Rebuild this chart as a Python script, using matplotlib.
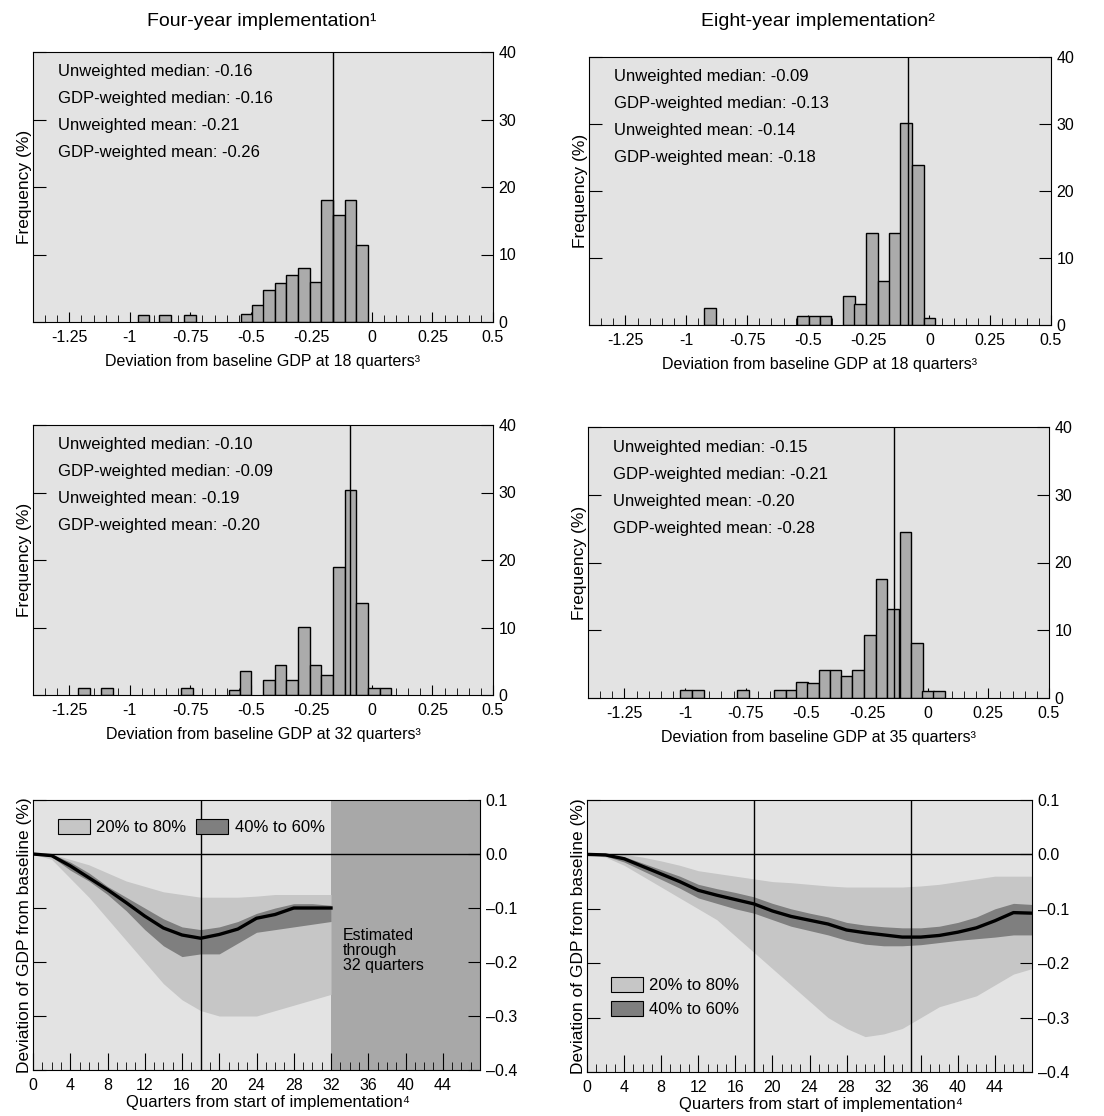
"""
Distribution of GDP impact estimates for four- and eight-year implementation.

Top two rows: histograms of deviation from baseline GDP at a given quarter.
Bottom row: median path with 20-80% and 40-60% bands.
"""

import matplotlib
matplotlib.use('Agg')
import matplotlib.pyplot as plt
from matplotlib.patches import Patch
from matplotlib.ticker import MultipleLocator

plt.rcParams['font.family'] = ['Liberation Sans', 'DejaVu Sans']

# ---------------------------------------------------------------------------
# Data
# ---------------------------------------------------------------------------
stat_names = ['Unweighted median', 'GDP-weighted median',
              'Unweighted mean', 'GDP-weighted mean']

# Four-year implementation, 18 quarters
four_q18_bins = [-0.944, -0.854, -0.752, -0.516, -0.47, -0.424, -0.378, -0.33,
                 -0.281, -0.233, -0.185, -0.137, -0.088, -0.04]
four_q18_freq = [1.0, 1.0, 1.0, 1.2, 2.5, 4.7, 5.8, 6.9, 8.0, 5.9, 18.1, 15.8,
                 18.1, 11.4]
four_q18_stats = [-0.16, -0.16, -0.21, -0.26]
four_q18_median = -0.16

# Eight-year implementation, 18 quarters
eight_q18_bins = [-0.903, -0.52, -0.473, -0.427, -0.332, -0.285, -0.237, -0.188,
                  -0.141, -0.095, -0.047, 0.0]
eight_q18_freq = [2.5, 1.3, 1.3, 1.3, 4.3, 3.2, 13.7, 6.5, 13.7, 30.1, 23.9, 1.0]
eight_q18_stats = [-0.09, -0.13, -0.14, -0.18]
eight_q18_median = -0.09

# Four-year implementation, 32 quarters
four_q32_bins = [-1.19, -1.094, -0.763, -0.567, -0.522, -0.426, -0.378, -0.33,
                 -0.281, -0.233, -0.185, -0.137, -0.089, -0.04, 0.008, 0.056]
four_q32_freq = [1.0, 1.0, 1.0, 0.7, 3.5, 2.2, 4.5, 2.2, 10.1, 4.5, 3.0, 19.0,
                 30.4, 13.6, 1.0, 1.0]
four_q32_stats = [-0.10, -0.09, -0.19, -0.20]
four_q32_median = -0.09

# Eight-year implementation, 35 quarters
eight_q35_bins = [-0.995, -0.947, -0.761, -0.61, -0.562, -0.517, -0.473, -0.425,
                  -0.38, -0.335, -0.287, -0.239, -0.191, -0.143, -0.092, -0.043,
                  0.002, 0.047]
eight_q35_freq = [1.2, 1.2, 1.2, 1.2, 1.2, 2.3, 2.2, 4.2, 4.2, 3.2, 4.2, 9.3,
                  17.6, 13.2, 24.5, 8.1, 1.0, 1.0]
eight_q35_stats = [-0.15, -0.21, -0.20, -0.28]
eight_q35_median = -0.14

hist_ticks = [-1.25, -1.0, -0.75, -0.5, -0.25, 0.0, 0.25, 0.5]
hist_tick_labels = ['-1.25', '-1', '-0.75', '-0.5', '-0.25', '0', '0.25', '0.5']

# Four-year implementation path (estimated through 32 quarters)
four_quarters = [0, 2, 4, 6, 8, 10, 12, 14, 16, 18, 20, 22, 24, 26, 28, 30, 32]
four_median = [0.0, -0.003, -0.022, -0.044, -0.066, -0.09, -0.115, -0.137,
               -0.15, -0.156, -0.149, -0.139, -0.119, -0.112, -0.1, -0.1, -0.1]
four_p40 = [0.0, -0.005, -0.03, -0.05, -0.075, -0.105, -0.14, -0.17, -0.19,
            -0.185, -0.185, -0.165, -0.145, -0.14, -0.135, -0.13, -0.125]
four_p60 = [0.0, 0.0, -0.015, -0.035, -0.06, -0.08, -0.1, -0.12, -0.135, -0.14,
            -0.135, -0.125, -0.11, -0.1, -0.092, -0.092, -0.095]
four_p20 = [0.0, -0.01, -0.045, -0.08, -0.12, -0.16, -0.2, -0.24, -0.27, -0.29,
            -0.3, -0.3, -0.3, -0.29, -0.28, -0.27, -0.26]
four_p80 = [0.0, 0.0, -0.01, -0.02, -0.035, -0.05, -0.06, -0.07, -0.075, -0.08,
            -0.08, -0.08, -0.078, -0.075, -0.075, -0.075, -0.075]

# Eight-year implementation path
eight_quarters = [0, 2, 4, 6, 8, 10, 12, 14, 16, 18, 20, 22, 24, 26, 28, 30, 32,
                  34, 36, 38, 40, 42, 44, 46, 48]
eight_median = [0.0, -0.001, -0.008, -0.022, -0.036, -0.05, -0.066, -0.075,
                -0.083, -0.091, -0.104, -0.114, -0.121, -0.128, -0.139, -0.144,
                -0.148, -0.152, -0.152, -0.149, -0.143, -0.135, -0.122, -0.107,
                -0.108]
eight_p60 = [0.0, 0.0, -0.004, -0.016, -0.028, -0.04, -0.055, -0.063, -0.07,
             -0.078, -0.09, -0.1, -0.108, -0.115, -0.125, -0.13, -0.133, -0.135,
             -0.135, -0.132, -0.125, -0.115, -0.1, -0.09, -0.092]
eight_p40 = [0.0, -0.003, -0.014, -0.03, -0.046, -0.062, -0.08, -0.09, -0.1,
             -0.108, -0.12, -0.132, -0.14, -0.148, -0.158, -0.165, -0.168,
             -0.168, -0.166, -0.162, -0.158, -0.155, -0.152, -0.148, -0.148]
eight_p80 = [0.0, 0.0, 0.0, -0.005, -0.012, -0.02, -0.03, -0.035, -0.04, -0.045,
             -0.05, -0.052, -0.055, -0.058, -0.06, -0.06, -0.06, -0.06, -0.058,
             -0.055, -0.05, -0.045, -0.04, -0.04, -0.04]
eight_p20 = [0.0, -0.005, -0.02, -0.04, -0.06, -0.08, -0.1, -0.12, -0.15, -0.18,
             -0.21, -0.24, -0.27, -0.3, -0.32, -0.335, -0.33, -0.32, -0.3, -0.28,
             -0.27, -0.26, -0.24, -0.22, -0.21]

fan_y_ticks = [0.1, 0.0, -0.1, -0.2, -0.3, -0.4]
fan_y_labels = ['0.1', '0.0', '\u20130.1', '\u20130.2', '\u20130.3', '\u20130.4']

# ---------------------------------------------------------------------------
# Style
# ---------------------------------------------------------------------------
W, H = 1104, 1116
BG = '#e3e3e3'
BAR = '#ababab'
BAND_LIGHT = '#c6c6c6'
BAND_DARK = '#7f7f7f'
ESTIMATED = '#a8a8a8'
BIN_WIDTH = 0.048
TICK_SIZE = 11.5


def px_rect(left, top, right, bottom):
    """Axes rectangle in figure fractions from pixel edges."""
    return [left / W, 1 - bottom / H, (right - left) / W, (bottom - top) / H]


def draw_histogram(ax, bins, freq, median, stats, xlabel):
    ax.set_facecolor(BG)
    ax.bar(bins, freq, width=BIN_WIDTH, color=BAR, edgecolor='black',
           linewidth=1.0, zorder=2)
    ax.axvline(median, color='black', linewidth=1.0, zorder=3)

    ax.set_xlim(-1.4, 0.5)
    ax.set_ylim(0, 40)
    ax.set_xticks(hist_ticks)
    ax.set_xticklabels(hist_tick_labels)
    ax.xaxis.set_minor_locator(MultipleLocator(0.05))
    ax.set_yticks([0, 10, 20, 30, 40])

    ax.tick_params(axis='both', which='both', direction='in', labelsize=TICK_SIZE)
    ax.tick_params(axis='y', left=True, right=True, labelleft=False,
                   labelright=True, length=9, pad=4)
    ax.tick_params(axis='x', which='major', length=7, pad=6)
    ax.tick_params(axis='x', which='minor', length=5)

    for i, (name, value) in enumerate(zip(stat_names, stats)):
        ax.text(0.054, 0.926 - i * 0.1, f'{name}: {value:.2f}',
                transform=ax.transAxes, fontsize=12, va='center', zorder=4)

    ax.set_ylabel('Frequency (%)', fontsize=12.5, labelpad=1)
    ax.set_xlabel(xlabel, fontsize=11.5, labelpad=6)


def draw_fan(ax, quarters, p20, p80, p40, p60, median, vlines):
    ax.set_facecolor(BG)
    ax.fill_between(quarters, p20, p80, color=BAND_LIGHT, linewidth=0, zorder=1)
    ax.fill_between(quarters, p40, p60, color=BAND_DARK, linewidth=0, zorder=2)
    ax.plot(quarters, median, color='black', linewidth=2.4, zorder=4)
    ax.axhline(0, color='black', linewidth=1.0, zorder=3)
    for v in vlines:
        ax.axvline(v, color='black', linewidth=1.0, zorder=3)

    ax.set_xlim(0, 48)
    ax.set_ylim(-0.4, 0.1)
    ax.set_xticks(range(0, 48, 4))
    ax.xaxis.set_minor_locator(MultipleLocator(1))
    ax.set_yticks(fan_y_ticks)
    ax.set_yticklabels(fan_y_labels)

    ax.tick_params(axis='both', which='both', direction='in', labelsize=TICK_SIZE)
    ax.tick_params(axis='y', left=True, right=True, labelleft=False,
                   labelright=True, length=9, pad=4)
    ax.tick_params(axis='x', which='major', length=12, pad=6)
    ax.tick_params(axis='x', which='minor', length=6)

    ax.set_ylabel('Deviation of GDP from baseline (%)', fontsize=12.5, labelpad=1)
    ax.set_xlabel('Quarters from start of implementation\u2074', fontsize=12)
    ax.xaxis.set_label_coords(0.525, -0.092)


def main():
    fig = plt.figure(figsize=(W / 100, H / 100), dpi=100)

    ax1 = fig.add_axes(px_rect(33, 52, 493, 322))
    ax2 = fig.add_axes(px_rect(589, 57, 1051, 325))
    ax3 = fig.add_axes(px_rect(33, 425, 493, 695))
    ax4 = fig.add_axes(px_rect(588, 427, 1049, 698))
    ax5 = fig.add_axes(px_rect(33, 800, 480, 1070))
    ax6 = fig.add_axes(px_rect(587, 800, 1032, 1072))

    draw_histogram(ax1, four_q18_bins, four_q18_freq, four_q18_median,
                   four_q18_stats, 'Deviation from baseline GDP at 18 quarters\u00b3')
    draw_histogram(ax2, eight_q18_bins, eight_q18_freq, eight_q18_median,
                   eight_q18_stats, 'Deviation from baseline GDP at 18 quarters\u00b3')
    draw_histogram(ax3, four_q32_bins, four_q32_freq, four_q32_median,
                   four_q32_stats, 'Deviation from baseline GDP at 32 quarters\u00b3')
    draw_histogram(ax4, eight_q35_bins, eight_q35_freq, eight_q35_median,
                   eight_q35_stats, 'Deviation from baseline GDP at 35 quarters\u00b3')

    # Four-year path: estimated only through 32 quarters
    ax5.axvspan(32, 48, color=ESTIMATED, linewidth=0, zorder=0.5)
    draw_fan(ax5, four_quarters, four_p20, four_p80, four_p40, four_p60,
             four_median, [18])
    ax5.text(33.3, -0.178, 'Estimated\nthrough\n32 quarters', fontsize=11.5,
             va='center', ha='left', linespacing=1.0, zorder=5)

    draw_fan(ax6, eight_quarters, eight_p20, eight_p80, eight_p40, eight_p60,
             eight_median, [18, 35])

    handles = [Patch(facecolor=BAND_LIGHT, edgecolor='black', linewidth=0.8),
               Patch(facecolor=BAND_DARK, edgecolor='black', linewidth=0.8)]
    labels = ['20% to 80%', '40% to 60%']
    ax5.legend(handles, labels, loc='center left', bbox_to_anchor=(0.037, 0.9),
               ncol=2, frameon=False, fontsize=12, handlelength=1.9,
               handleheight=1.0, handletextpad=0.4, columnspacing=0.6,
               borderpad=0)
    ax6.legend(handles, labels, loc='center left', bbox_to_anchor=(0.035, 0.275),
               ncol=1, frameon=False, fontsize=12, handlelength=1.9,
               handleheight=1.0, handletextpad=0.4, labelspacing=0.45,
               borderpad=0)

    # Column titles
    fig.text(262 / W, 1 - 22 / H, 'Four-year implementation\u00b9',
             ha='center', va='center', fontsize=14)
    fig.text(818 / W, 1 - 22 / H, 'Eight-year implementation\u00b2',
             ha='center', va='center', fontsize=14)

    fig.savefig('out.png', dpi=100, facecolor='white')
    plt.close(fig)
    print('saved out.png')


if __name__ == '__main__':
    main()
